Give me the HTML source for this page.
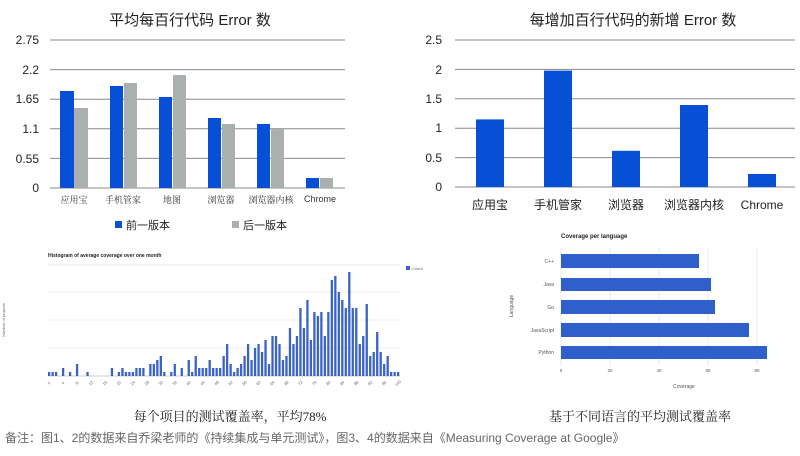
<!DOCTYPE html>
<html><head><meta charset="utf-8"><style>
body{margin:0;width:800px;height:451px;background:#fff;overflow:hidden;font-family:"Liberation Sans","Noto Sans CJK SC",sans-serif}
</style></head><body>
<svg id="s" width="800" height="451" viewBox="0 0 800 451" xmlns="http://www.w3.org/2000/svg" font-family="Liberation Sans, Noto Sans CJK SC, sans-serif">
<!-- Chart 1 -->
<text x="190" y="25" font-size="15" text-anchor="middle" fill="#222">平均每百行代码 Error 数</text>
<g stroke="#888" stroke-width="1">
<line x1="50" y1="40" x2="345" y2="40"/><line x1="50" y1="69.6" x2="345" y2="69.6"/><line x1="50" y1="99.2" x2="345" y2="99.2"/><line x1="50" y1="128.8" x2="345" y2="128.8"/><line x1="50" y1="158.4" x2="345" y2="158.4"/><line x1="50" y1="188" x2="345" y2="188"/>
</g>
<g font-size="12" fill="#222" text-anchor="end">
<text x="39" y="44">2.75</text><text x="39" y="74">2.2</text><text x="39" y="103">1.65</text><text x="39" y="133">1.1</text><text x="39" y="163">0.55</text><text x="39" y="192">0</text>
</g>
<g fill="#0750d6">
<rect x="60" y="91" width="14" height="97"/><rect x="110" y="86" width="13" height="102"/><rect x="159" y="97" width="13" height="91"/><rect x="208" y="118" width="13" height="70"/><rect x="257" y="124" width="13" height="64"/><rect x="306" y="178" width="13" height="10"/>
</g>
<g fill="#aab0b0">
<rect x="74" y="108" width="14" height="80"/><rect x="124" y="83" width="13" height="105"/><rect x="173" y="75" width="13" height="113"/><rect x="222" y="124" width="13" height="64"/><rect x="271" y="129" width="13" height="59"/><rect x="320" y="178" width="13" height="10"/>
</g>
<g font-size="9" fill="#333" text-anchor="middle" font-family="Liberation Serif, Noto Serif CJK SC, serif">
<text x="74" y="203">应用宝</text><text x="123" y="203">手机管家</text><text x="172" y="203">地图</text><text x="221" y="203">浏览器</text><text x="271" y="203">浏览器内核</text><text x="320" y="202" font-family="Liberation Sans, sans-serif">Chrome</text>
</g>
<rect x="115" y="221" width="7" height="7" fill="#0750d6"/><text x="126" y="229" font-size="11" fill="#222">前一版本</text>
<rect x="232" y="221" width="7" height="7" fill="#aab0b0"/><text x="243" y="229" font-size="11" fill="#222">后一版本</text>

<!-- Chart 2 -->
<text x="633" y="25" font-size="15" text-anchor="middle" fill="#222">每增加百行代码的新增 Error 数</text>
<g stroke="#888" stroke-width="1">
<line x1="455" y1="40" x2="795" y2="40"/><line x1="455" y1="69.4" x2="795" y2="69.4"/><line x1="455" y1="98.8" x2="795" y2="98.8"/><line x1="455" y1="128.2" x2="795" y2="128.2"/><line x1="455" y1="157.6" x2="795" y2="157.6"/><line x1="455" y1="187" x2="795" y2="187"/>
</g>
<g font-size="12" fill="#222" text-anchor="end">
<text x="442" y="44">2.5</text><text x="442" y="74">2</text><text x="442" y="103">1.5</text><text x="442" y="132">1</text><text x="442" y="162">0.5</text><text x="442" y="191">0</text>
</g>
<g fill="#0750d6">
<rect x="476" y="119.4" width="28" height="67.6"/><rect x="544" y="70.6" width="28" height="116.4"/><rect x="612" y="150.8" width="28" height="36.2"/><rect x="680" y="105" width="28" height="82"/><rect x="748" y="174" width="28" height="13"/>
</g>
<g font-size="12" fill="#222" text-anchor="middle">
<text x="490" y="209">应用宝</text><text x="558" y="209">手机管家</text><text x="626" y="209">浏览器</text><text x="694" y="209">浏览器内核</text><text x="762" y="209">Chrome</text>
</g>

<!-- Histogram -->
<text x="48" y="257" font-size="5" font-weight="bold" fill="#222">Histogram of average coverage over one month</text>
<g stroke="#e6e6e6" stroke-width="0.8">
<line x1="48" y1="265" x2="400" y2="265"/><line x1="48" y1="292" x2="400" y2="292"/><line x1="48" y1="320" x2="400" y2="320"/><line x1="48" y1="348" x2="400" y2="348"/>
</g>
<line x1="48" y1="376" x2="400" y2="376" stroke="#999" stroke-width="0.6"/>
<g id="hist" fill="#3a63c8"></g>
<g id="hl" font-size="4" fill="#666"></g>
<text x="5" y="320" font-size="4" fill="#666" transform="rotate(-90 5 320)" text-anchor="middle">Number of projects</text>
<rect x="406" y="266" width="4" height="4" fill="#3a63c8"/><text x="412" y="270" font-size="4" fill="#666">Count</text>

<!-- Language chart -->
<text x="561" y="238" font-size="6" font-weight="bold" fill="#222">Coverage per language</text>
<g stroke="#ddd" stroke-width="0.6">
<line x1="561" y1="248" x2="561" y2="366"/><line x1="610" y1="248" x2="610" y2="366"/><line x1="659" y1="248" x2="659" y2="366"/><line x1="708" y1="248" x2="708" y2="366"/><line x1="757" y1="248" x2="757" y2="366"/>
</g>
<g fill="#2e5fcb">
<rect x="561" y="254" width="138" height="14"/><rect x="561" y="278" width="150" height="13"/><rect x="561" y="300" width="154" height="14"/><rect x="561" y="323" width="188" height="14"/><rect x="561" y="346" width="206" height="13"/>
</g>
<g font-size="5" fill="#555" text-anchor="end">
<text x="554" y="263">C++</text><text x="554" y="286">Java</text><text x="554" y="309">Go</text><text x="554" y="332">JavaScript</text><text x="554" y="354">Python</text>
</g>
<g font-size="4.5" fill="#555" text-anchor="middle">
<text x="561" y="372">0</text><text x="610" y="372">20</text><text x="659" y="372">40</text><text x="708" y="372">60</text><text x="757" y="372">80</text>
</g>
<text x="684" y="388" font-size="5" fill="#555" text-anchor="middle">Coverage</text>
<text x="513" y="306" font-size="5" fill="#555" text-anchor="middle" transform="rotate(-90 513 306)">Language</text>

<!-- captions -->
<text x="230" y="421" font-size="13" fill="#222" text-anchor="middle" font-family="Liberation Serif, Noto Serif CJK SC, serif">每个项目的测试覆盖率，平均78%</text>
<text x="640" y="421" font-size="13" fill="#222" text-anchor="middle" font-family="Liberation Serif, Noto Serif CJK SC, serif">基于不同语言的平均测试覆盖率</text>
<text x="5" y="442" font-size="12" fill="#666">备注：图1、2的数据来自乔梁老师的《持续集成与单元测试》，图3、4的数据来自《Measuring Coverage at Google》</text>
</svg>
<script>
var h=[12,12,12,0,24,0,12,0,36,0,0,12,0,0,0,0,0,0,24,0,12,24,12,12,12,24,24,24,0,36,36,48,60,12,0,12,36,0,24,0,48,12,60,24,24,24,48,24,24,24,60,96,36,12,24,36,60,96,48,84,96,72,108,36,120,120,96,48,60,144,96,120,204,144,228,108,192,180,192,120,192,288,300,252,228,204,312,204,204,96,120,216,60,72,132,72,36,60,12,12,12];
var g=document.getElementById('hist'),l=document.getElementById('hl'),ns='http://www.w3.org/2000/svg';
var sp=349/(h.length-1);
for(var i=0;i<h.length;i++){if(!h[i])continue;var r=document.createElementNS(ns,'rect');var x=48+i*sp;r.setAttribute('x',x);r.setAttribute('width',2.3);r.setAttribute('y',376-h[i]/3);r.setAttribute('height',h[i]/3);g.appendChild(r);}
for(var i=0;i<=100;i+=4){var t=document.createElementNS(ns,'text');var x=50+i*3.49;t.setAttribute('x',x);t.setAttribute('y',384);t.setAttribute('transform','rotate(-45 '+x+' 384)');t.setAttribute('text-anchor','middle');t.textContent=i;l.appendChild(t);}
</script>
</body></html>
